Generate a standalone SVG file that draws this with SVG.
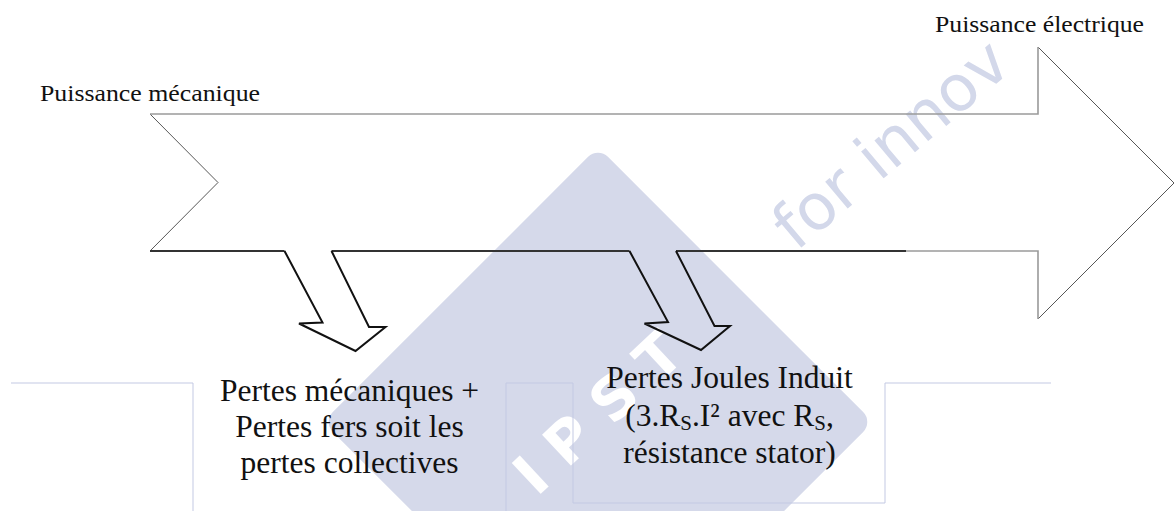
<svg xmlns="http://www.w3.org/2000/svg" width="1174" height="511" viewBox="0 0 1174 511">
  <style>
    .wm { fill: #d5d9ea; }
    .wmtext { font-family: "DejaVu Sans", "Liberation Sans", sans-serif; fill: #d3d8ea; }
    .wmlogo { font-family: "DejaVu Sans", "Liberation Sans", sans-serif; font-weight: bold; fill: #ffffff; }
    .cell { fill: none; stroke: #c3c9e3; stroke-width: 1; }
    .thin { fill: none; stroke: #444444; stroke-width: 0.9; }
    .gray { fill: none; stroke: #9a9a9a; stroke-width: 1.6; }
    .dark { fill: none; stroke: #333333; stroke-width: 2; stroke-linejoin: miter; }
    .loss { fill: none; stroke: #111111; stroke-width: 2; stroke-linejoin: miter; }
    .lbl { font-family: "Liberation Serif", "DejaVu Serif", serif; font-size: 24px; fill: #111111; }
    .txt { font-family: "Liberation Serif", "DejaVu Serif", serif; font-size: 31.5px; fill: #111111; text-anchor: middle; }
  </style>

  <rect width="1174" height="511" fill="#ffffff"/>

  <!-- watermark -->
  <g id="watermark">
    <rect class="wm" x="403.5" y="227.5" width="389" height="389" rx="14" transform="rotate(45 598 422)"/>
    <text class="wmlogo" font-size="58" transform="translate(598,413) rotate(-43)" x="0" y="20" text-anchor="middle" textLength="205" lengthAdjust="spacing">IPST</text>
    <text class="wmtext" font-size="64" transform="translate(796,252) rotate(-40)" x="0" y="0">for innov</text>
  </g>

  <!-- table cell borders -->
  <g id="cells">
    <path class="cell" d="M11,383 H193 V511"/>
    <path class="cell" d="M506,511 V383 H573 V503 H885 V383 H1051"/>
  </g>

  <!-- main power flow arrow -->
  <g id="power-arrow">
    <path class="thin" d="M150,114 L218,182.5 L150,251"/>
    <path class="thin" d="M1038,47 L1174,183 L1038,319"/>
    <path class="gray" d="M150,114 H1038 V47"/>
    <path class="gray" d="M1038,319 V251 H906"/>
    <path class="dark" d="M150,251 H284.5 M331.5,251 H629.5 M676,251 H906"/>
  </g>

  <!-- loss arrows -->
  <g id="connectors">
    <path id="loss-arrow-1" class="loss" d="M284.5,251 L322.5,322.5 L299,323.5 L355.5,351 L385.5,327 L369,327 L331.5,251"/>
    <path id="loss-arrow-2" class="loss" d="M629.5,251 L668,322 L644.5,323.5 L701,350 L730,326 L714.5,326 L676,251"/>
  </g>

  <g id="label-mecanique">
    <text class="lbl" x="40" y="101" textLength="220" lengthAdjust="spacingAndGlyphs">Puissance mécanique</text>
  </g>

  <g id="label-electrique">
    <text class="lbl" x="935" y="32" textLength="209" lengthAdjust="spacingAndGlyphs">Puissance électrique</text>
  </g>

  <g id="node-pertes-collectives">
    <text class="txt" x="349.5" y="401">Pertes mécaniques +</text>
    <text class="txt" x="349.5" y="437">Pertes fers soit les</text>
    <text class="txt" x="349.5" y="473">pertes collectives</text>
  </g>

  <g id="node-pertes-joules">
    <text class="txt" x="729.5" y="388">Pertes Joules Induit</text>
    <text class="txt" x="729.5" y="425.5">(3.R<tspan font-size="21" dy="4">S</tspan><tspan dy="-4">.I² avec R</tspan><tspan font-size="21" dy="4">S</tspan><tspan dy="-4">,</tspan></text>
    <text class="txt" x="729.5" y="463">résistance stator)</text>
  </g>
</svg>
